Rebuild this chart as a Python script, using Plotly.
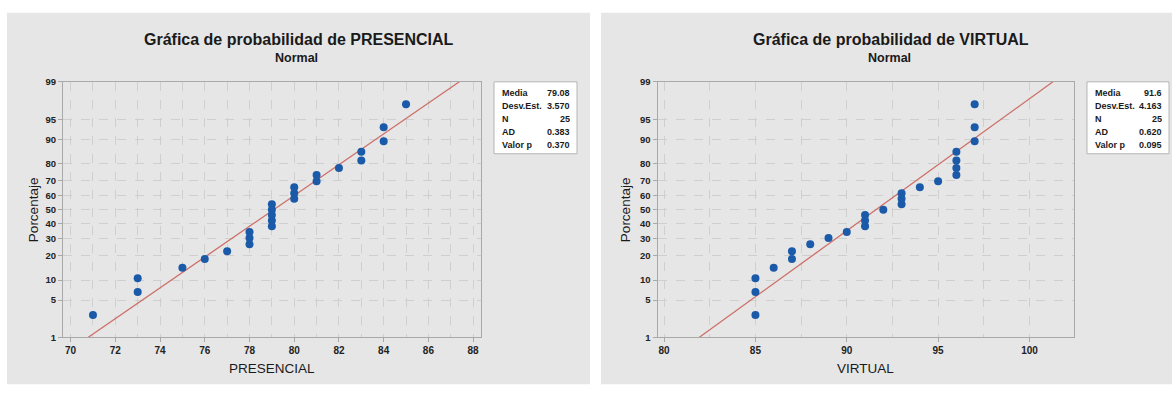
import plotly.graph_objects as go
from statistics import NormalDist, mean, stdev

# ---------------- data ----------------
presencial = [71, 73, 73, 75, 76, 77, 78, 78, 78, 79, 79, 79, 79, 79,
              80, 80, 80, 81, 81, 82, 83, 83, 84, 84, 85]
virtual = [85, 85, 85, 86, 87, 87, 88, 89, 90, 91, 91, 91, 92, 93, 93,
           93, 94, 95, 96, 96, 96, 96, 97, 97, 97]
ad_presencial, p_presencial = "0.383", "0.370"
ad_virtual, p_virtual = "0.620", "0.095"
y_ticks_pct = [1, 5, 10, 20, 30, 40, 50, 60, 70, 80, 90, 95, 99]
titles = ["Gráfica de probabilidad de PRESENCIAL", "Gráfica de probabilidad de VIRTUAL"]
x_titles = ["PRESENCIAL", "VIRTUAL"]

W, H = 1174, 394
nd = NormalDist()
zmin, zmax = nd.inv_cdf(0.01), nd.inv_cdf(0.99)


def px(x):
    return x / W


def py(y):
    return 1 - y / H


BLUE = "#1a5aa8"
RED = "#cd6f68"
GRID = "#cfcfcf"
AXIS = "#a9a9a9"
FONT = "Liberation Sans, Arial, sans-serif"

fig = go.Figure()

panels = [
    dict(data=presencial, ad=ad_presencial, pv=p_presencial,
         xdom=(63, 480.5), xr=(69.66, 88.33), dtick=2, minor=1,
         bg=(7, 590), box=(494, 577), title_x=299, ytitle_x=33),
    dict(data=virtual, ad=ad_virtual, pv=p_virtual,
         xdom=(657.5, 1073.5), xr=(79.64, 102.41), dtick=5, minor=2.5,
         bg=(601, 1172), box=(1087, 1169), title_x=891, ytitle_x=625),
]

shapes = []
annotations = []
layout_axes = {}

for k, pn in enumerate(panels):
    data = sorted(pn["data"])
    n = len(data)
    m = mean(data)
    s = stdev(data)
    zs = [nd.inv_cdf((i - 0.3) / (n + 0.4)) for i in range(1, n + 1)]
    xa = "x" if k == 0 else "x2"
    ya = "y" if k == 0 else "y2"

    # fitted line
    fig.add_trace(go.Scatter(x=[m + s * zmin, m + s * zmax], y=[zmin, zmax],
                             mode="lines", line=dict(color=RED, width=1.3),
                             xaxis=xa, yaxis=ya, showlegend=False, hoverinfo="skip"))
    # points
    fig.add_trace(go.Scatter(x=data, y=zs, mode="markers",
                             marker=dict(color=BLUE, size=8),
                             xaxis=xa, yaxis=ya, showlegend=False))

    # panel background
    shapes.append(dict(type="rect", xref="paper", yref="paper",
                       x0=px(pn["bg"][0]), x1=px(pn["bg"][1]), y0=py(389), y1=py(7),
                       fillcolor="#e6e6e6", line=dict(width=0), layer="below"))
    # stats box
    shapes.append(dict(type="rect", xref="paper", yref="paper",
                       x0=px(pn["box"][0]), x1=px(pn["box"][1]), y0=py(152), y1=py(78),
                       fillcolor="white", line=dict(color="#b5b5b5", width=1)))

    labels = ["Media", "Desv.Est.", "N", "AD", "Valor p"]
    values = [f"{m:g}", f"{s:.3f}", str(n), pn["ad"], pn["pv"]]
    rows_y = [89, 102.5, 116, 129.5, 143]
    for lab, val, yy in zip(labels, values, rows_y):
        annotations.append(dict(text=lab, xref="paper", yref="paper",
                                x=px(pn["box"][0] + 6), y=py(yy), xanchor="left", yanchor="middle",
                                showarrow=False,
                                font=dict(family=FONT, size=9, color="#1a1a1a", weight="bold")))
        annotations.append(dict(text=val, xref="paper", yref="paper",
                                x=px(pn["box"][1] - 5), y=py(yy), xanchor="right", yanchor="middle",
                                showarrow=False,
                                font=dict(family=FONT, size=9, color="#1a1a1a", weight="bold")))

    # titles
    annotations.append(dict(text="<b>" + titles[k] + "</b>", xref="paper", yref="paper",
                            x=px(pn["title_x"]), y=py(34), xanchor="center", yanchor="middle",
                            showarrow=False, font=dict(family=FONT, size=16, color="#1a1a1a")))
    annotations.append(dict(text="<b>Normal</b>", xref="paper", yref="paper",
                            x=px(pn["title_x"] - 2), y=py(54), xanchor="center", yanchor="middle",
                            showarrow=False, font=dict(family=FONT, size=12.5, color="#1a1a1a")))
    # axis titles
    xc = (pn["xdom"][0] + pn["xdom"][1]) / 2
    annotations.append(dict(text=x_titles[k], xref="paper", yref="paper",
                            x=px(xc), y=py(373), xanchor="center", yanchor="middle",
                            showarrow=False, font=dict(family=FONT, size=13.5, color="#1a1a1a")))
    annotations.append(dict(text="Porcentaje", xref="paper", yref="paper", textangle=-90,
                            x=px(pn["ytitle_x"]), y=py(210), xanchor="center", yanchor="middle",
                            showarrow=False, font=dict(family=FONT, size=13.5, color="#1a1a1a")))

    xname = "xaxis" if k == 0 else "xaxis2"
    yname = "yaxis" if k == 0 else "yaxis2"
    layout_axes[xname] = dict(
        domain=[px(pn["xdom"][0]), px(pn["xdom"][1])], range=list(pn["xr"]),
        anchor=ya, tickmode="linear", tick0=0, dtick=pn["dtick"],
        showline=True, mirror=True, linecolor=AXIS, linewidth=1,
        ticks="outside", ticklen=4, tickcolor=AXIS,
        showgrid=True, gridcolor=GRID, griddash="dash", gridwidth=1,
        minor=dict(dtick=pn["minor"], tick0=0, showgrid=True, gridcolor=GRID,
                   griddash="dash", ticks=""),
        zeroline=False, tickfont=dict(family=FONT, size=10, color="#222", weight="bold"))
    layout_axes[yname] = dict(
        domain=[py(341), py(78)], range=[zmin, zmax], anchor=xa,
        tickmode="array", tickvals=[nd.inv_cdf(p / 100) for p in y_ticks_pct],
        ticktext=[str(p) for p in y_ticks_pct],
        showline=True, mirror=True, linecolor=AXIS, linewidth=1,
        ticks="outside", ticklen=4, tickcolor=AXIS,
        showgrid=True, gridcolor=GRID, griddash="dash", gridwidth=1,
        zeroline=False, tickfont=dict(family=FONT, size=9.5, color="#222", weight="bold"))

fig.update_layout(
    width=W, height=H, margin=dict(l=0, r=0, t=0, b=0),
    paper_bgcolor="white", plot_bgcolor="white",
    shapes=shapes, annotations=annotations, showlegend=False,
    **layout_axes)

fig.write_html("out.html", config={"displayModeBar": False},
               post_script="document.body.style.margin='0';")
